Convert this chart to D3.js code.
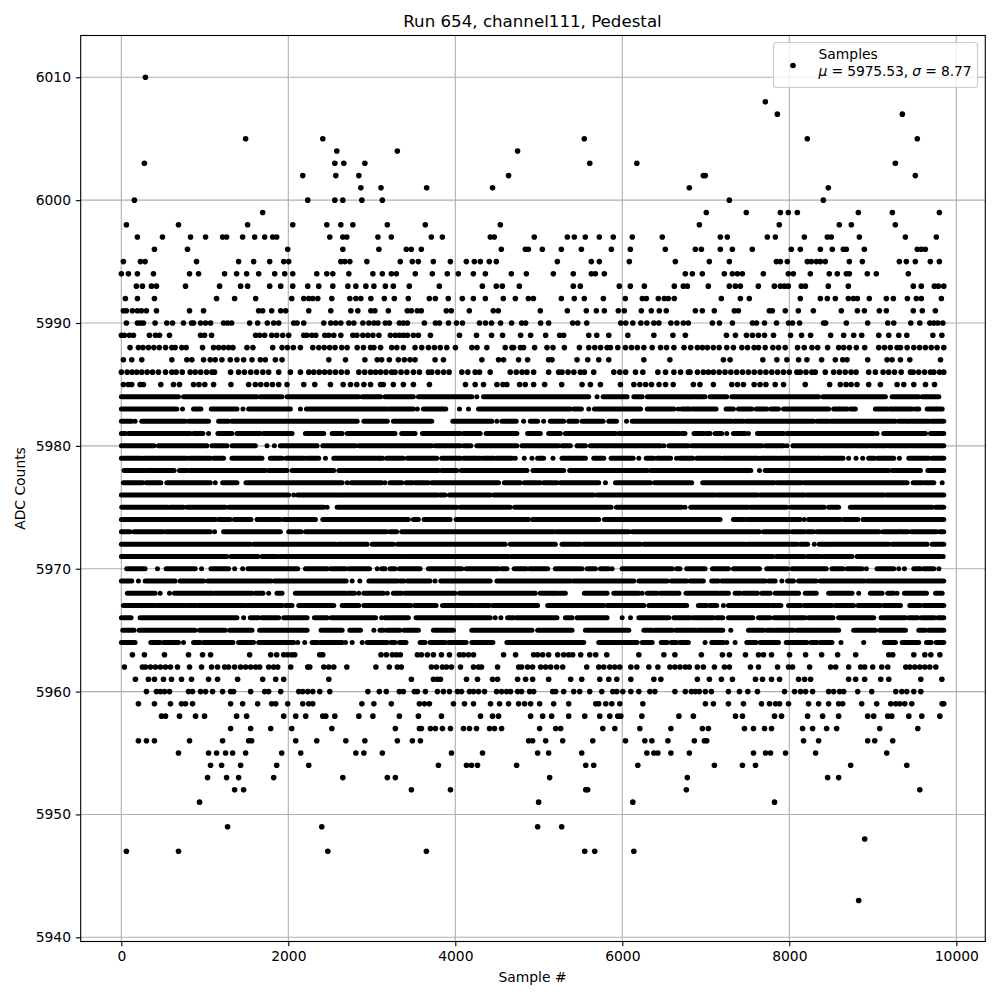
<!DOCTYPE html>
<html><head><meta charset="utf-8"><style>html,body{margin:0;background:#fff}svg{display:block}text{font-family:"DejaVu Sans";fill:#000}</style>
<script src="https://cdnjs.cloudflare.com/ajax/libs/d3/7.8.5/d3.min.js"></script></head><body><svg id="c" width="1000" height="1000"></svg><script>
// s<level>: sample numbers of points.
const s6010=[289],s6008=[7713],s6007=[7857,9354],s6005=[1489,2413,5545,8216,9533],s6004=[2581,3306,4746],s6003=[277,2557,2665,2917,5610,6174,9270],s6002=[2173,2569,2845,4638,6970,6994,9509],s6001=[2869,3110,3657,4446,6803,8467],s6000=[157,2233,2557,2653,2881,3126,7282,8408];
const s5999=[1693,7006,7485,7893,7988,8096,8827,9234,9797];
const s5998=[61,685,1513,2053,2461,2629,2773,3186,3641,4539,6923,7880,8599,8743,9270];
const s5997=[193,493,829,1009,1213,1261,1453,1597,1717,1813,1861,2497,2653,2701,3073,3234,3713,3845,4419,4467,4946,5342,5425,5557,5725,5892,6120,6479,7174,7258,7737,7833,8180,8455,8503,8839,9390,9761];
const s5996=[397,793,1993,2653,3085,3413,3473,3593,4551,4839,4875,5042,5270,5510,5869,6096,6515,6875,6947,7174,7318,7557,8024,8132,8372,8515,8647,8683,8899,9533,9581,9629];
const s5995=[25,229,285,901,1405,1585,1777,1945,2005,2629,2677,2737,2941,3341,3485,3557,3737,3941,4132,4228,4300,4407,4491,5222,5629,5725,6084,6635,7042,7282,7845,7893,7976,8216,8264,8324,8372,8431,8719,8875,9318,9402,9509,9689,9797];
const s5994=[1,85,193,385,817,925,1237,1381,1501,1645,1837,1957,2053,2341,2461,2533,2725,3013,3126,3234,3294,3521,3725,3904,4036,4216,4360,4671,4851,5174,5413,5629,5677,5785,6755,6839,6958,7222,7318,7378,7438,7689,7988,8048,8252,8479,8575,8683,8719,8934,9042,9425];
const s5993=[181,253,361,421,769,1177,1429,1513,1777,1909,2053,2233,2365,2533,2713,2809,2929,3025,3162,3258,3449,3809,4324,4491,4563,4767,5413,5497,5964,6096,6264,6623,6731,6779,7030,7282,7354,7414,7629,7821,7893,7941,7988,8144,8192,8467,8707,9485,9581,9737,9785,9850];
const s5992=[49,193,397,1141,1357,1609,2041,2185,2245,2293,2353,2521,2737,2809,2869,2989,3150,3270,3437,3689,3761,3916,4084,4216,4360,4575,4719,4875,4935,5270,5425,5545,5773,6036,6240,6288,6431,6503,6551,6623,7186,7414,7521,8132,8372,8455,8551,8707,8767,8815,8958,9162,9246,9414,9521,9581,9821];
const s5991=[25,61,133,193,241,301,421,817,985,1645,1693,1801,1909,1969,2245,2509,2749,2833,2989,3037,3198,3425,3473,3545,3593,3892,3952,4168,4455,4515,5018,5342,5569,5689,5785,5952,6024,6228,6347,6443,6527,6875,6958,7102,7342,7390,7761,7797,7952,8108,8288,8623,8815,8899,9078,9162,9485,9593,9749];
const s5990=[61,193,229,265,405,545,613,745,841,865,949,1009,1069,1225,1273,1321,1537,1633,1749,1825,1885,2065,2105,2185,2425,2509,2569,2629,2725,2785,2893,2965,3025,3073,3162,3210,3330,3378,3426,3630,3762,3810,3918,4014,4086,4290,4362,4434,4542,4674,4794,4842,5022,5118,5406,5466,5574,5982,6042,6126,6222,6294,6378,6438,6582,6654,6731,6791,7079,7163,7319,7559,7607,7703,7847,7991,8039,8123,8411,8435,8683,8939,9179,9251,9455,9563,9683,9731,9779,9839];
const s5989=[1,37,97,145,337,409,457,577,949,997,1081,1609,1657,1717,1801,1861,1933,2005,2185,2221,2281,2329,2437,2485,2545,2629,2773,2821,2893,2953,3013,3085,3222,3282,3330,3378,3426,3498,3558,3702,4050,4254,4434,4566,4782,4902,5082,5250,5298,5598,5694,5838,6066,6378,6606,6755,7247,7355,7487,7559,7631,7703,7811,8015,8147,8255,8495,8651,8771,8867,9071,9191,9311,9407,9719,9827];
const s5988=[105,205,260,325,390,455,530,605,645,725,777,973,1105,1165,1225,1285,1337,1505,1577,1813,1925,1990,2060,2145,2293,2365,2430,2495,2560,2640,2705,2825,2900,2985,3025,3105,3238,3300,3378,3518,3598,3678,3750,3820,3898,4002,4198,4260,4378,4598,4678,4698,4780,4818,4950,5098,5170,5306,5486,5598,5670,5740,5818,5858,5946,6038,6110,6180,6258,6358,6458,6530,6618,6739,6819,6899,6959,7019,7090,7160,7251,7331,7431,7500,7579,7631,7711,7803,7871,7951,8099,8179,8271,8340,8459,8591,8651,8720,8803,8903,9071,9140,9210,9291,9331,9411,9491,9560,9630,9700,9770,9850];
const s5987=[25,125,245,605,785,845,985,1065,1125,1205,1305,1385,1465,1565,1665,1725,1845,1925,2485,2685,2917,3065,3118,3210,3318,3390,3458,3518,3758,3858,4318,4518,4578,4758,4866,5118,5158,5458,5586,5718,5838,6258,6570,7211,7291,7683,7851,7971,8111,8211,8387,8551,8640,8691,8939,9171,9231,9331,9443,9811];
const s5986=[1,70,130,185,245,310,375,445,530,605,657,730,825,885,950,1020,1085,1117,1309,1405,1475,1550,1620,1695,1765,1885,2025,2145,2245,2305,2370,2435,2497,2565,2635,2705,2845,2915,2985,3045,3105,3170,3238,3278,3350,3420,3498,3570,3678,3718,3790,3860,3926,4078,4150,4238,4290,4418,4658,4730,4800,4858,4938,5118,5238,5278,5350,5420,5498,5546,5658,5898,5970,6040,6158,6246,6426,6518,6618,6698,6791,6811,6900,6971,7031,7091,7160,7230,7300,7370,7440,7510,7580,7650,7720,7790,7860,7930,8000,8091,8131,8200,8271,8311,8431,8531,8600,8670,8740,8800,8951,9031,9123,9190,9260,9340,9451,9483,9550,9620,9691,9731,9800,9850];
const s5985=[25,85,125,225,265,473,625,697,865,930,1000,1105,1313,1525,1605,1670,1740,1810,1885,1985,2185,2317,2505,2657,2745,2820,2905,2985,3105,3138,3258,3378,3498,3690,4122,4238,4338,4498,4570,4618,4770,4838,4938,5070,5274,5518,5618,5738,5978,6138,6210,6280,6350,6440,6518,6610,6851,6930,7091,7311,7380,7451,7579,7650,7720,7831,7931,8191,8483,8611,8680,8740,8811,8951,9091,9291,9371,9491,9631,9739];
const s5963=[133,277,517,805,973,1069,1537,1789,1861,1945,1993,2041,2077,2377,2413,3110,3174,3246,3294,3342,3546,3594,3666,3738,3834,3930,4050,4098,4158,4218,4578,4722,4938,4986,5046,5118,5226,5298,5358,5406,5502,5610,5682,5814,6198,6498,6630,6947,7199,7283,7475,7631,7691,7787,8003,8195,8387,8579,8795,9191,9239,9491,9623,9695,9803];
const s5962=[37,253,289,349,409,469,529,589,673,817,961,1081,1153,1237,1285,1357,1429,1489,1549,1609,1657,1765,1825,1873,2029,2233,2257,2425,2485,2545,2701,3049,3210,3306,3354,3714,3774,3846,3894,3954,4062,4218,4278,4314,4506,4758,4794,4866,4926,5022,5082,5142,5214,5286,5574,5718,5778,5850,5910,5970,6102,6174,6318,6426,6570,6630,6691,6755,6803,6899,6971,7103,7223,7283,7535,7631,7859,7991,8039,8243,8495,8555,8711,8855,8903,8999,9107,9179,9395,9443,9503,9563,9623,9683,9755];
const s5961=[169,325,397,505,601,721,841,1045,1153,1393,1693,1849,1945,2485,3474,3738,3786,3822,4134,4266,4446,4506,4746,4842,4926,5118,5382,5514,5730,5838,5934,6102,6378,6462,6899,7043,7187,7319,7595,7679,7787,7883,8111,8183,8255,8711,8795,8903,9095,9191,9575,9827];
const s5960=[301,421,469,517,577,805,853,949,1009,1093,1213,1309,1345,1549,1717,1765,1909,2125,2173,2233,2293,2377,2497,2953,3090,3174,3330,3378,3510,3546,3642,3786,3858,3930,4026,4074,4170,4218,4278,4350,4494,4554,4614,4662,4746,4794,4890,4938,5166,5202,5298,5418,5490,5610,5754,5886,5934,6006,6102,6198,6330,6390,6630,6755,6827,6875,6923,6995,7067,7271,7403,7503,7619,7943,8063,8135,8195,8279,8471,8531,8603,8651,8819,8987,9275,9347,9407,9491,9575];
const s5959=[205,397,589,721,769,853,1309,1453,1633,1801,1849,1993,2173,2245,2293,2881,3025,3234,3570,3630,3690,3978,4110,4218,4422,4530,4638,4758,4830,4902,5010,5178,5358,5682,5718,5802,5874,5970,6246,6995,7091,7271,7451,7667,7763,7835,7883,7991,8231,8351,8471,8591,8639,8867,9047,9215,9275,9323,9383,9467,9830,9850];
const s5958=[481,529,697,889,997,1381,1501,1945,2089,2209,2413,2449,2557,2845,3013,3330,3558,3834,4302,4446,4518,4902,5046,5154,5358,5550,5730,5850,5946,5982,6234,6678,6851,7355,7439,7823,7907,8219,8399,8591,8939,9011,9179,9227,9431,9587,9803];
const s5957=[1309,1549,1789,2041,2521,3282,3570,3594,3702,3762,3846,3942,4098,4170,4254,4410,4470,4554,5010,5202,5262,5766,5910,6210,6582,6959,7031,7463,7571,7703,7787,8159,8279,8447,8567,9083,9539];
const s5956=[205,301,397,817,1213,1525,1561,2089,2341,2689,2917,3306,3486,3582,4878,4926,5082,5286,5646,6038,6270,6354,6546,6863,6983,7011,8171,8351,8939,9023,9239];
const s5955=[685,1045,1141,1249,1333,1489,1921,2149,2809,2905,3126,3954,4326,4986,5118,5514,6294,6378,6426,6582,6803,7571,7715,7775,7955,8315,9167];
const s5954=[1069,1201,1429,1861,2245,3798,4134,4194,4266,4734,5562,5658,6186,7103,7439,7595,8735,9407];
const s5953=[1033,1261,1405,1825,2653,3186,3282,5130,6779,8459,8591];
const s5952=[1357,1465,3474,3942,5562,5586,6767,9563];
const s5951=[937,4998,6126,7823],s5949=[1273,2401,4986,5274],s5948=[8903],s5947=[61,685,2473,3654,5550,5670,6138],s5943=[8831];
// r<level>: central rows, where markers overlap into bars. Each pair is the start and end sample of a visible run.
const r5984=[1,685,745,1625,1665,1925,1985,2845,2885,3105,3158,3498,3558,4198,4258,4258,4338,5598,5698,5698,5770,6058,6138,6238,6298,6851,6871,6991,7051,7251,7311,8351,8403,9151,9231,9551,9591,9791];
const r5983=[1,665,733,733,865,953,1077,1385,1457,1457,1525,2025,2145,2145,2217,3170,3198,3298,3318,3498,3546,3546,3618,3886,4050,4050,4158,4158,4278,5378,5418,5510,5598,5598,5666,6218,6298,6618,6670,6670,6711,6811,6843,7123,7243,7331,7391,7551,7603,7731,7779,7871,7931,8471,8531,8691,8731,8791,9031,9171,9203,9471,9511,9551,9651,9831];
const r5982=[1,125,165,165,245,765,805,1045,1165,1285,1325,2825,2905,3186,3258,3718,3970,4438,4498,4498,4558,4730,4818,4818,4898,4986,5058,5058,5138,5298,5358,5458,5518,5770,5838,5930,6050,6050,6118,7311,7339,7451,7483,8291,8331,8471,8499,9271,9311,9411,9431,9671,9699,9850];
const r5981=[1,45,85,825,865,977,1045,1045,1157,1325,1385,1665,1705,2045,2205,2425,2525,2645,2705,3278,3358,3518,3606,4058,4098,4298,4370,4738,4866,5018,5118,5258,5318,5918,5958,6678,6711,6751,6859,6971,7003,7051,7111,7191,7251,7251,7331,7471,7511,7511,7619,7931,7971,9011,9051,9051,9131,9631,9691,9850];
const r5980=[1,393,445,1025,1085,1265,1325,1605,1745,1745,1833,1833,1905,2345,2413,2805,2845,3718,3758,4058,4098,4186,4258,4738,4798,5238,5278,5378,5458,5558,5618,6458,6498,6498,6558,6791,6831,6931,6951,7671,7711,7931,7971,7971,8043,8771,8791,8951,8979,9163,9191,9850];
const r5979=[1,237,265,785,817,1065,1105,1225,1325,1685,1785,1925,1973,2193,2225,2365,2445,2445,2545,3085,3098,3130,3178,3378,3426,3778,3838,4058,4098,4298,4330,4466,4498,4678,4718,4718,4826,4826,4918,4918,4986,5058,5170,5170,5278,5558,5658,5778,5866,6130,6198,6198,6286,6378,6418,6578,6650,6650,6691,6843,6891,7179,7211,7631,7659,7859,7883,8371,8403,8531,8551,8643,8711,8711,8799,8799,8879,8879,8951,9019,9059,9251,9319,9319,9431,9671,9711,9850];
const r5978=[33,265,293,633,697,793,825,1725,1765,1985,2045,2545,2605,3798,3838,4018,4070,4858,4930,5298,5370,6298,6338,7539,7643,7643,7711,9191,9231,9571,9659,9850];
const r5977=[25,257,297,473,545,1065,1125,1125,1213,1385,1493,2645,2705,2705,2753,3118,3158,3158,3218,3358,3410,3490,3518,3678,3718,4518,4586,4778,4826,5018,5058,5218,5258,5718,5798,5798,5918,6338,6386,6831,6963,7819,7851,8151,8179,9411,9483,9591,9619,9731,9831,9831];
const r5976=[1,2005,2065,2065,2113,2625,2645,3786,3818,3878,3930,4418,4458,5658,5698,7111,7139,7619,7651,8179,8211,9131,9163,9850];
const r5975=[5,553,577,745,785,1245,1285,2425,2465,2465,2585,4018,4058,4658,4710,5866,5930,6711,6751,6751,6819,7511,7539,7971,8019,8419,8471,8591,8731,9711,9751,9850];
const r5974=[1,1125,1165,1305,1353,1553,1625,1905,1945,2325,2413,2885,2905,3438,3498,3558,3626,3938,4010,4878,4926,5718,5786,7171,7331,7459,7491,8131,8179,8179,8231,8611,8651,8823,8883,9850];
const r5973=[1,105,153,505,537,1065,1117,1117,1225,1905,2005,2153,2205,3178,3218,3298,3358,5178,5210,6078,6118,7643,7691,7991,8031,8179,8211,8291,8331,9075,9123,9311,9331,9419,9459,9763,9803,9850];
const r5972=[1,1545,1585,2565,2593,2945,3005,3258,3306,4598,4658,5198,5278,5498,5538,6218,6258,7471,7499,8091,8131,8219,8299,8299,8359,8471,8491,9191,9231,9651,9711,9850];
const r5971=[1,1265,1313,1637,1685,1865,1897,3338,3358,4638,4670,7803,7843,8179,8219,8379,8411,8751,8811,9811,9843,9843];
const r5970=[65,285,433,433,537,885,961,961,1073,1285,1357,1357,1453,1453,1517,2113,2205,2465,2505,2685,2725,2973,3065,3065,3118,3158,3218,3278,3330,3578,3678,4078,4130,4518,4558,4618,4706,4850,4890,5106,5198,5518,5578,5678,5738,5838,5878,5878,5998,6078,6098,6598,6650,6691,6771,6991,7079,7271,7331,7643,7731,7979,8031,8443,8511,8643,8691,8871,8923,8923,9051,9251,9311,9311,9379,9379,9491,9571,9611,9731,9791,9791];
const r5969=[1,125,205,205,285,645,705,985,1033,1793,1833,2693,2765,2765,2857,2857,2965,3306,3338,3386,3426,3698,3758,3758,3826,4418,4498,5378,5410,6138,6198,6538,6586,6771,6811,6971,7071,7151,7191,7711,7751,7831,7911,7911,7979,8051,8111,8323,8371,8899,8931,9850];
const r5968=[73,405,465,465,577,577,637,1093,1125,1565,1605,1697,1765,1765,1865,1925,2085,2685,2717,2793,2845,2845,2905,3138,3186,3186,3258,3358,3398,3998,4050,4958,5018,5218,5250,5318,5546,5818,5898,6198,6238,6238,6298,6418,6458,6678,6763,7151,7179,7271,7351,7411,7451,7619,7671,7771,7831,8111,8191,8323,8471,8751,8831,8831,8971,9111,9179,9251,9291,9291,9379,9643,9751,9831];
const r5967=[25,393,417,745,769,897,925,1485,1513,1925,1965,2045,2125,2545,2645,2845,2905,3466,3510,3770,3846,4238,4266,4410,4450,4986,5106,5778,5818,6258,6318,6771,6911,7011,7051,7131,7211,7211,7271,7763,7791,7899,7991,8139,8179,8511,8551,8771,8823,9091,9131,9331,9443,9571,9611,9850];
const r5966=[1,117,225,1385,1465,1465,1545,1645,1685,1885,1945,2225,2313,2465,2513,3045,3118,3118,3158,3438,3530,4418,4478,4478,4546,4546,4626,4698,4730,5218,5318,5398,5458,5818,5998,5998,6098,6098,6198,6558,6618,6811,6843,7091,7131,7203,7271,7563,7631,7771,7819,8191,8231,8523,8591,9011,9099,9391,9431,9539,9579,9739,9779,9850];
const r5965=[17,153,213,885,937,1245,1297,1565,1657,2225,2393,2645,2737,2865,3025,3025,3098,3138,3178,3338,3386,3558,3738,3978,4198,4918,4986,5398,5558,5878,5898,6078,6258,6358,6386,6598,6638,6871,6899,7203,7299,7299,7511,7691,7731,7803,7831,8051,8091,8291,8311,8591,8771,9031,9083,9391,9551,9631,9671,9850];
const r5964=[1,165,353,465,505,685,745,745,865,945,985,1337,1405,1585,1645,2065,2113,2113,2197,2197,2285,2353,2385,2645,2685,2685,2765,2765,2885,2885,2945,3186,3230,3278,3330,3410,3578,3638,3698,3878,3918,4130,4198,4450,4618,5538,5718,6178,6238,6358,6466,6538,6586,6650,6691,6791,6991,6991,7071,7211,7251,7251,7351,7351,7491,7603,7651,7871,7963,8211,8259,8331,8371,8511,8619,8619,8891,8891,9139,9271,9351,9551,9643,9699,9759,9850];
const xTicks=[0,2000,4000,6000,8000,10000],yTicks=[5940,5950,5960,5970,5980,5990,6000,6010];
const pointRows=[[6010,s6010],[6008,s6008],[6007,s6007],[6005,s6005],[6004,s6004],[6003,s6003],[6002,s6002],[6001,s6001],[6000,s6000],[5999,s5999],[5998,s5998],[5997,s5997],[5996,s5996],[5995,s5995],[5994,s5994],[5993,s5993],[5992,s5992],[5991,s5991],[5990,s5990],[5989,s5989],[5988,s5988],[5987,s5987],[5986,s5986],[5985,s5985],[5963,s5963],[5962,s5962],[5961,s5961],[5960,s5960],[5959,s5959],[5958,s5958],[5957,s5957],[5956,s5956],[5955,s5955],[5954,s5954],[5953,s5953],[5952,s5952],[5951,s5951],[5949,s5949],[5948,s5948],[5947,s5947],[5943,s5943]];
const runRows=[[5984,r5984],[5983,r5983],[5982,r5982],[5981,r5981],[5980,r5980],[5979,r5979],[5978,r5978],[5977,r5977],[5976,r5976],[5975,r5975],[5974,r5974],[5973,r5973],[5972,r5972],[5971,r5971],[5970,r5970],[5969,r5969],[5968,r5968],[5967,r5967],[5966,r5966],[5965,r5965],[5964,r5964]];
const svg=d3.select('#c');
const L=80.7,R=985.3,T=35.5,B=941.5;
const x=d3.scaleLinear([0,10000],[121.3,956.3]),y=d3.scaleLinear([5940,6010],[937.3,77.3]);
const g=svg.append('g');
g.selectAll('.gx').data(xTicks).join('line').attr('x1',d=>x(d)).attr('x2',d=>x(d)).attr('y1',T).attr('y2',B).attr('stroke','#b0b0b0').attr('stroke-width',1.11);
g.selectAll('.gy').data(yTicks).join('line').attr('y1',d=>y(d)).attr('y2',d=>y(d)).attr('x1',L).attr('x2',R).attr('stroke','#b0b0b0').attr('stroke-width',1.11);
const ax=svg.append('g').attr('transform',`translate(0,${B})`).call(d3.axisBottom(x).tickValues(xTicks).tickFormat(d3.format('d')).tickSize(4.86).tickPadding(4.86));
const ay=svg.append('g').attr('transform',`translate(${L},0)`).call(d3.axisLeft(y).tickValues(yTicks).tickFormat(d3.format('d')).tickSize(4.86).tickPadding(4.86));
for(const a of [ax,ay]){a.select('.domain').remove();a.selectAll('line').attr('stroke','#000').attr('stroke-width',1.11);a.selectAll('text').style('font-size','13.89px').style('font-family','DejaVu Sans')}
pointRows.forEach(([lv,arr])=>svg.append('g').selectAll('circle').data(arr).join('circle').attr('cx',d=>x(d)).attr('cy',y(lv)).attr('r',2.8).attr('fill','#000'));
runRows.forEach(([lv,arr])=>svg.append('g').selectAll('line').data(d3.range(0,arr.length,2)).join('line').attr('x1',i=>x(arr[i])).attr('x2',i=>x(arr[i+1])).attr('y1',y(lv)).attr('y2',y(lv)).attr('stroke','#000').attr('stroke-width',5).attr('stroke-linecap','round'));
svg.append('rect').attr('x',L).attr('y',T).attr('width',R-L).attr('height',B-T).attr('fill','none').attr('stroke','#000').attr('stroke-width',1.11);
svg.append('text').attr('x',532.5).attr('y',27).attr('text-anchor','middle').style('font-size','16.67px').text('Run 654, channel111, Pedestal');
svg.append('text').attr('x',532.5).attr('y',982).attr('text-anchor','middle').style('font-size','13.89px').text('Sample #');
svg.append('text').attr('transform','translate(25,488.5) rotate(-90)').attr('text-anchor','middle').style('font-size','13.89px').text('ADC Counts');
const lg=svg.append('g');
lg.append('rect').attr('x',773.5).attr('y',42.5).attr('width',204).attr('height',45).attr('rx',3).attr('fill','#fff').attr('fill-opacity',.8).attr('stroke','#ccc').attr('stroke-width',1.11);
lg.append('circle').attr('cx',793).attr('cy',65.5).attr('r',2.8).attr('fill','#000');
lg.append('text').attr('x',818.5).attr('y',59).style('font-size','13.89px').text('Samples');
const t=lg.append('text').attr('x',818.5).attr('y',76).attr('textLength',153).attr('lengthAdjust','spacing').style('font-size','13.89px');
t.append('tspan').style('font-style','italic').text('μ');t.append('tspan').text(' = 5975.53, ');t.append('tspan').style('font-style','italic').text('σ');t.append('tspan').text(' = 8.77');
</script></body></html>
